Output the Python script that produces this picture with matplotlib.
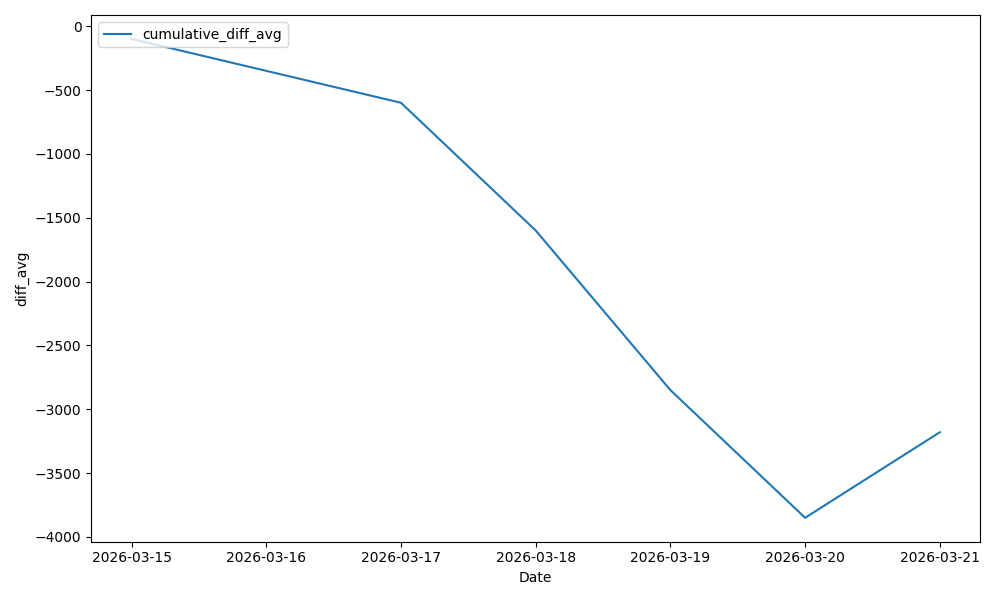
import pandas as pd
import matplotlib
matplotlib.use("Agg")
import matplotlib.pyplot as plt

dates = ["2026-03-15", "2026-03-16", "2026-03-17", "2026-03-18",
         "2026-03-19", "2026-03-20", "2026-03-21"]
cumulative_diff_avg = [-100, -350, -600, -1600, -2850, -3850, -3180]

df = pd.DataFrame({"Date": pd.to_datetime(dates),
                   "cumulative_diff_avg": cumulative_diff_avg})

fig, ax = plt.subplots(figsize=(10, 6), dpi=100)
ax.plot(df["Date"], df["cumulative_diff_avg"], label="cumulative_diff_avg")
ax.set_xlabel("Date")
ax.set_ylabel("diff_avg")
ax.legend(loc="upper left")
plt.tight_layout()
plt.savefig("out.png")
